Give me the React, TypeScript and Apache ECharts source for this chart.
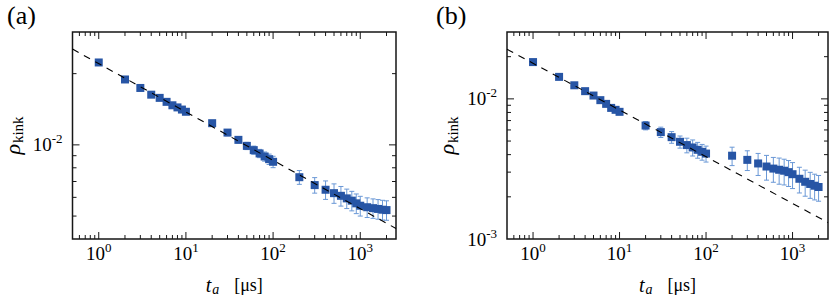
import React, { useEffect, useRef } from 'react';
import * as echarts from 'echarts';

// ---------- data ----------
const tValues = [1, 2, 3, 4, 5, 6, 7, 8, 9, 10, 20, 30, 40, 50, 60, 70, 80, 90, 100, 200, 300, 400, 500, 600, 700, 800, 900, 1000, 1200, 1400, 1600, 1800, 2000];

const rhoA = [0.0223, 0.0189, 0.0174, 0.0163, 0.0158, 0.0152, 0.0147, 0.0144, 0.0141, 0.0138, 0.01235, 0.01127, 0.0105, 0.0099, 0.0095, 0.0092, 0.00893, 0.0087, 0.00848, 0.0073, 0.00676, 0.00646, 0.00625, 0.00609, 0.00594, 0.00581, 0.00566, 0.00553, 0.00545, 0.0054, 0.00536, 0.00532, 0.0053];
const errA = [0.00033, 0.00028, 0.00026, 0.00024, 0.00024, 0.00023, 0.00022, 0.00022, 0.00021, 0.00021, 0.00031, 0.00034, 0.00032, 0.00035, 0.00038, 0.00037, 0.0004, 0.00044, 0.00047, 0.00049, 0.00051, 0.00058, 0.00059, 0.00058, 0.00056, 0.00055, 0.00054, 0.00053, 0.00052, 0.00051, 0.00051, 0.00051, 0.0005];

const rhoB = [0.0183, 0.01435, 0.0125, 0.01135, 0.01056, 0.00979, 0.00921, 0.00862, 0.00835, 0.00808, 0.00645, 0.00579, 0.00533, 0.00494, 0.00468, 0.0045, 0.00433, 0.00419, 0.00407, 0.00393, 0.00367, 0.00346, 0.00329, 0.00318, 0.00312, 0.00307, 0.003, 0.0029, 0.00269, 0.00256, 0.00247, 0.0024, 0.00235];
const errB = [0.00037, 0.00029, 0.00025, 0.00023, 0.00021, 0.0002, 0.0002, 0.0002, 0.0002, 0.0002, 0.00044, 0.00049, 0.00051, 0.00049, 0.00056, 0.00059, 0.00056, 0.00054, 0.00053, 0.00059, 0.00059, 0.00062, 0.00066, 0.00064, 0.00066, 0.00064, 0.00063, 0.00061, 0.00056, 0.00054, 0.00052, 0.0005, 0.00049];

const fitA = [[0.5, 0.0254], [2570, 0.00443]];
const fitB = [[0.5, 0.0226], [2570, 0.00131]];

const xRange = [0.5, 2570];
const yRangeA = [0.004, 0.03];
const yRangeB = [0.001, 0.03];

const xMajorTicks = [1, 10, 100, 1000];
const xMinorTicks = [0.6, 0.7, 0.8, 0.9, 2, 3, 4, 5, 6, 7, 8, 9, 20, 30, 40, 50, 60, 70, 80, 90, 200, 300, 400, 500, 600, 700, 800, 900, 2000];
const yMajorTicksA = [0.01];
const yMinorTicksA = [0.005, 0.006, 0.007, 0.008, 0.009, 0.02];
const yMajorTicksB = [0.01];
const yMinorTicksB = [0.002, 0.003, 0.004, 0.005, 0.006, 0.007, 0.008, 0.009, 0.02];

const panelLabels = ['(a)', '(b)'];

// ---------- styles ----------
const SERIF = 'Liberation Serif';
const FRAME = '#161616';
const MARK = '#2755a5';
const ERR = '#6a98d6';

function buildTicks(yMajor: number[], yMinor: number[]) {
  const out: number[][] = [];
  xMajorTicks.forEach((v) => out.push([v, 0.01, 1, 0]));
  xMinorTicks.forEach((v) => out.push([v, 0.01, 0, 0]));
  yMajor.forEach((v) => out.push([1, v, 1, 1]));
  yMinor.forEach((v) => out.push([1, v, 0, 1]));
  return out;
}

function tickRender(params: any, api: any) {
  const cs = params.coordSys;
  const isY = api.value(3) === 1;
  const len = api.value(2) === 1 ? 7 : 4;
  const p = api.coord([api.value(0), api.value(1)]);
  const style = { stroke: FRAME, lineWidth: 1 };
  if (!isY) {
    const x = p[0];
    return {
      type: 'group',
      children: [
        { type: 'line', shape: { x1: x, y1: cs.y + cs.height, x2: x, y2: cs.y + cs.height - len }, style },
        { type: 'line', shape: { x1: x, y1: cs.y, x2: x, y2: cs.y + len }, style },
      ],
    };
  }
  const y = p[1];
  return {
    type: 'group',
    children: [
      { type: 'line', shape: { x1: cs.x, y1: y, x2: cs.x + len, y2: y }, style },
      { type: 'line', shape: { x1: cs.x + cs.width, y1: y, x2: cs.x + cs.width - len, y2: y }, style },
    ],
  };
}

function errRender(params: any, api: any) {
  const t = api.value(0);
  const y = api.value(1);
  const e = api.value(2);
  const top = api.coord([t, y + e]);
  const bot = api.coord([t, y - e]);
  const w = 2.5;
  const style = { stroke: ERR, lineWidth: 1 };
  return {
    type: 'group',
    children: [
      { type: 'line', shape: { x1: top[0], y1: top[1], x2: bot[0], y2: bot[1] }, style },
      { type: 'line', shape: { x1: top[0] - w, y1: top[1], x2: top[0] + w, y2: top[1] }, style },
      { type: 'line', shape: { x1: bot[0] - w, y1: bot[1], x2: bot[0] + w, y2: bot[1] }, style },
    ],
  };
}

function decadeLabel(v: number) {
  const lg = Math.log10(v);
  const e = Math.round(lg);
  if (Math.abs(lg - e) > 1e-6) return '';
  return `{b|10}{s|${e}}`;
}

const labelRich = {
  b: { fontFamily: SERIF, fontSize: 19, color: '#000' },
  s: { fontFamily: SERIF, fontSize: 13, color: '#000', padding: [0, 0, 12, 0] },
};

function xAxisFor(gridIndex: number) {
  return {
    type: 'log',
    gridIndex,
    min: xRange[0],
    max: xRange[1],
    axisLine: { show: false },
    axisTick: { show: false },
    splitLine: { show: false },
    minorTick: { show: false },
    axisLabel: {
      margin: 2,
      formatter: decadeLabel,
      rich: labelRich,
    },
    name: '{t|t}{a|a}{u|[μs]}',
    nameLocation: 'middle',
    nameGap: 34,
    nameTextStyle: {
      fontFamily: SERIF,
      color: '#000',
      rich: {
        t: { fontFamily: SERIF, fontSize: 20, fontStyle: 'italic', color: '#000' },
        a: { fontFamily: SERIF, fontSize: 14, fontStyle: 'italic', color: '#000', padding: [9, 0, 0, 1] },
        u: { fontFamily: SERIF, fontSize: 18, color: '#000', padding: [0, 0, 0, 15] },
      },
    },
  };
}

function yAxisFor(gridIndex: number, range: number[]) {
  return {
    type: 'log',
    gridIndex,
    min: range[0],
    max: range[1],
    axisLine: { show: false },
    axisTick: { show: false },
    splitLine: { show: false },
    minorTick: { show: false },
    axisLabel: {
      margin: 10,
      formatter: decadeLabel,
      rich: labelRich,
    },
    name: '{r|ρ}{k|kink}',
    nameLocation: 'middle',
    nameRotate: 90,
    nameGap: 47,
    nameTextStyle: {
      fontFamily: SERIF,
      color: '#000',
      rich: {
        r: { fontFamily: SERIF, fontSize: 22, fontStyle: 'italic', color: '#000' },
        k: { fontFamily: SERIF, fontSize: 15, color: '#000', padding: [12, 0, 0, 1] },
      },
    },
  };
}

function panelSeries(idx: number, rho: number[], err: number[], fit: number[][], yMajor: number[], yMinor: number[]) {
  const pts = tValues.map((t, i) => [t, rho[i]]);
  const errs = tValues.map((t, i) => [t, rho[i], err[i]]);
  return [
    {
      type: 'custom',
      xAxisIndex: idx,
      yAxisIndex: idx,
      renderItem: tickRender,
      data: buildTicks(yMajor, yMinor),
      silent: true,
      z: 5,
    },
    {
      type: 'custom',
      xAxisIndex: idx,
      yAxisIndex: idx,
      renderItem: errRender,
      data: errs,
      silent: true,
      z: 2,
    },
    {
      type: 'scatter',
      xAxisIndex: idx,
      yAxisIndex: idx,
      symbol: 'rect',
      symbolSize: 8,
      itemStyle: { color: MARK, opacity: 1 },
      data: pts,
      z: 3,
    },
    {
      type: 'line',
      xAxisIndex: idx,
      yAxisIndex: idx,
      data: fit,
      showSymbol: false,
      symbol: 'none',
      lineStyle: { color: '#000', width: 1.1, type: [7, 6] },
      z: 4,
    },
  ];
}

export default function App() {
  const ref = useRef<HTMLDivElement>(null);
  useEffect(() => {
    if (!ref.current) return;
    const chart = echarts.init(ref.current, undefined, { renderer: 'svg' });
    chart.setOption({
      animation: false,
      backgroundColor: '#fff',
      textStyle: { fontFamily: SERIF },
      grid: [
        { left: 72, top: 32, width: 324, height: 207, show: true, borderColor: FRAME, borderWidth: 1.5, backgroundColor: 'transparent' },
        { left: 507, top: 32, width: 323, height: 207, show: true, borderColor: FRAME, borderWidth: 1.5, backgroundColor: 'transparent' },
      ],
      xAxis: [xAxisFor(0), xAxisFor(1)],
      yAxis: [yAxisFor(0, yRangeA), yAxisFor(1, yRangeB)],
      series: [
        ...panelSeries(0, rhoA, errA, fitA, yMajorTicksA, yMinorTicksA),
        ...panelSeries(1, rhoB, errB, fitB, yMajorTicksB, yMinorTicksB),
      ],
      graphic: [
        { type: 'text', left: 7, top: 2, style: { text: panelLabels[0], fontFamily: SERIF, fontSize: 26, fill: '#000' } },
        { type: 'text', left: 436, top: 2, style: { text: panelLabels[1], fontFamily: SERIF, fontSize: 26, fill: '#000' } },
      ],
    });
    return () => chart.dispose();
  }, []);
  return <div ref={ref} style={{ position: 'fixed', left: 0, top: 0, width: 831, height: 301 }} />;
}
